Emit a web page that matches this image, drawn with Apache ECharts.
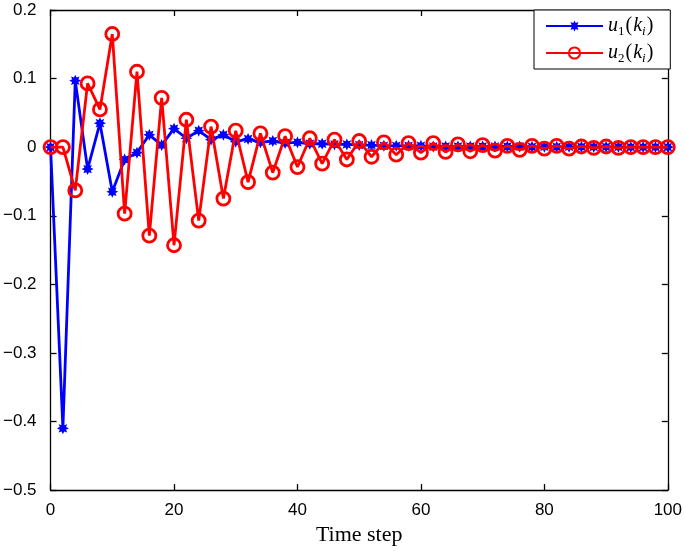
<!DOCTYPE html>
<html>
<head>
<meta charset="utf-8">
<script src="https://cdn.jsdelivr.net/npm/echarts@6/dist/echarts.min.js"></script>
<style>html,body{margin:0;padding:0;background:#fff;}#c{width:685px;height:551px;}</style>
</head>
<body>
<div id="c"></div>
<script>
// ---- data ----
const timeSteps = [0,2,4,6,8,10,12,14,16,18,20,22,24,26,28,30,32,34,36,38,40,42,44,46,48,50,52,54,56,58,60,62,64,66,68,70,72,74,76,78,80,82,84,86,88,90,92,94,96,98,100];
const u1 = [0,-0.41,0.097,-0.032,0.035,-0.065,-0.018,-0.008,0.018,0.003,0.027,0.013,0.024,0.011,0.018,0.008,0.012,0.007,0.009,0.006,0.007,0.005,0.005,0.004,0.004,0.003,0.003,0.002,0.002,0.002,0.002,0.001,0.001,0.001,0.001,0.001,0.001,0.001,0.001,0.0005,0.0005,0.0005,0.0005,0.0005,0.0003,0.0003,0.0003,0.0002,0.0002,0.0001,0.0001];
const u2 = [0,0,-0.063,0.093,0.055,0.165,-0.097,0.110,-0.129,0.072,-0.143,0.040,-0.107,0.030,-0.075,0.024,-0.051,0.020,-0.037,0.016,-0.029,0.013,-0.024,0.011,-0.018,0.009,-0.014,0.007,-0.011,0.006,-0.008,0.006,-0.007,0.004,-0.006,0.003,-0.005,0.002,-0.004,0.002,-0.002,0.002,-0.002,0.001,-0.001,0.001,-0.001,0,0,0,0];
const xTicks = [0,20,40,60,80,100];
const yTicks = [-0.5,-0.4,-0.3,-0.2,-0.1,0,0.1,0.2];

// asterisk-like star symbol path
function starPath(n, rOut, rIn) {
  let d = '';
  for (let i = 0; i < 2*n; i++) {
    const r = i % 2 === 0 ? rOut : rIn;
    const a = Math.PI * i / n - Math.PI/2;
    d += (i === 0 ? 'M' : 'L') + (r*Math.cos(a)).toFixed(2) + ' ' + (r*Math.sin(a)).toFixed(2);
  }
  return 'path://' + d + 'Z';
}

const pair = (xs, ys) => xs.map((x, i) => [x, ys[i]]);
const yFmt = v => { const r = Math.round(v*10)/10; return r === 0 ? '0' : String(r).replace('-', '\u2212'); };

function axisCommon() {
  return {
    axisLine: {show: true, onZero: false, lineStyle: {color: '#000', width: 1.3}},
    axisTick: {show: true, inside: true, length: 6, lineStyle: {color: '#000', width: 1.3}},
    splitLine: {show: false}
  };
}

const chart = echarts.init(document.getElementById('c'));
chart.setOption({
  backgroundColor: '#fff',
  animation: false,
  grid: {left: 50, right: 15, top: 10, bottom: 53},
  legend: {
    left: 534, top: 10, orient: 'vertical',
    itemWidth: 57, itemHeight: 14, itemGap: 3,
    padding: [4, 16, 4, 11],
    borderColor: '#000', borderWidth: 1, backgroundColor: '#fff',
    data: ['u1', 'u2'],
    formatter: function(name) {
      const d = name.slice(1);
      return '{i|u}{s|' + d + '}{n|(}{i|k}{si|i}{n|)}';
    },
    textStyle: {
      rich: {
        i: {fontFamily: 'Liberation Serif', fontStyle: 'italic', fontSize: 20, lineHeight: 20, color: '#000'},
        n: {fontFamily: 'Liberation Serif', fontSize: 20, lineHeight: 20, color: '#000', padding: [0, 1, 0, 1]},
        s: {fontFamily: 'Liberation Serif', fontSize: 13, lineHeight: 13, color: '#000', padding: [11, 0, 0, 0]},
        si: {fontFamily: 'Liberation Serif', fontStyle: 'italic', fontSize: 13, lineHeight: 13, color: '#000', padding: [11, 0, 0, 0]}
      }
    }
  },
  xAxis: [
    Object.assign({
      type: 'value', min: 0, max: 100, interval: 20, position: 'bottom',
      name: 'Time step', nameLocation: 'middle', nameGap: 32,
      nameTextStyle: {fontFamily: 'Liberation Serif', fontSize: 22, color: '#000'},
      axisLabel: {color: '#000', fontFamily: 'Liberation Sans', fontSize: 17, margin: 12,
        formatter: v => xTicks.includes(v) ? String(v) : ''}
    }, axisCommon()),
    Object.assign({
      type: 'value', min: 0, max: 100, interval: 20, position: 'top',
      axisLabel: {show: false}
    }, axisCommon())
  ],
  yAxis: [
    Object.assign({
      type: 'value', min: -0.5, max: 0.2, interval: 0.1, position: 'left',
      axisLabel: {color: '#000', fontFamily: 'Liberation Sans', fontSize: 17, margin: 14, formatter: yFmt}
    }, axisCommon()),
    Object.assign({
      type: 'value', min: -0.5, max: 0.2, interval: 0.1, position: 'right',
      axisLabel: {show: false}
    }, axisCommon())
  ],
  series: [
    {
      name: 'u1', type: 'line', data: pair(timeSteps, u1),
      symbol: starPath(8, 6, 3.4), symbolSize: 12,
      lineStyle: {color: '#0000ff', width: 2.8},
      itemStyle: {color: '#0000ff'},
      z: 2
    },
    {
      name: 'u2', type: 'line', data: pair(timeSteps, u2),
      symbol: 'circle', symbolSize: 13,
      lineStyle: {color: '#ff0000', width: 2.8},
      itemStyle: {color: 'rgba(255,255,255,0)', borderColor: '#ff0000', borderWidth: 2.8},
      z: 3
    }
  ]
});
</script>
</body>
</html>
